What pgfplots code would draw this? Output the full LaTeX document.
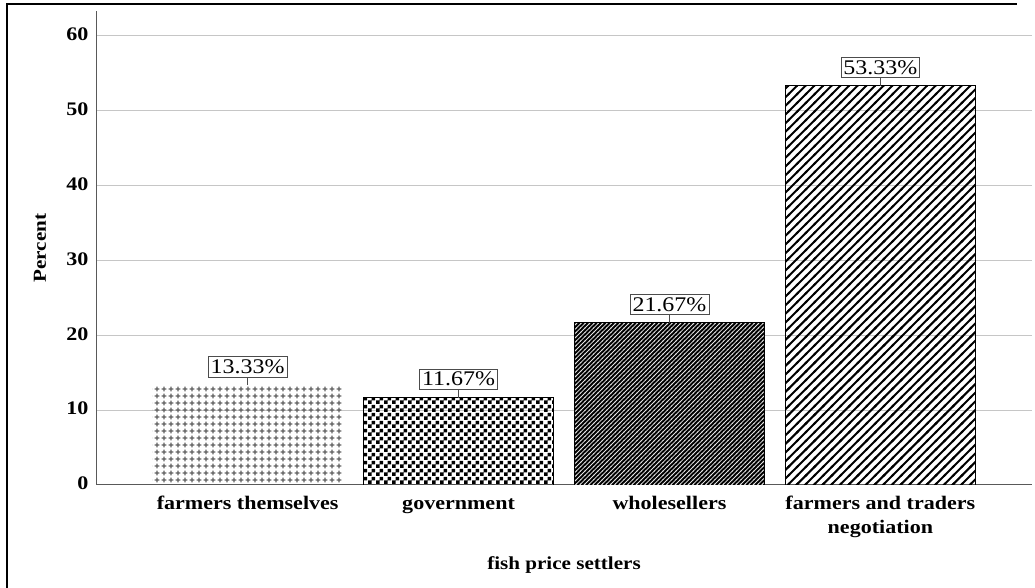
\documentclass[border=0pt]{standalone}
\usepackage{pgfplots}
\pgfplotsset{compat=1.18}
\usepackage{fontspec}
\setmainfont{Liberation Serif}[FakeStretch=1.15]
\usetikzlibrary{patterns}

% plus signs (bar 1)
\pgfdeclarepatternformonly{plusgrid}{\pgfqpoint{0pt}{0pt}}{\pgfqpoint{4.2pt}{4.2pt}}{\pgfqpoint{4.2pt}{4.2pt}}{%
  \pgfsetlinewidth{0.85pt}%
  \pgfpathmoveto{\pgfqpoint{0.5pt}{2.1pt}}\pgfpathlineto{\pgfqpoint{3.7pt}{2.1pt}}%
  \pgfpathmoveto{\pgfqpoint{2.1pt}{0.5pt}}\pgfpathlineto{\pgfqpoint{2.1pt}{3.7pt}}%
  \pgfusepath{stroke}}
% checkerboard (bar 2)
\pgfdeclarepatternformonly{checker}{\pgfqpoint{0pt}{0pt}}{\pgfqpoint{4.8pt}{4.8pt}}{\pgfqpoint{4.8pt}{4.8pt}}{%
  \pgfpathrectangle{\pgfqpoint{0pt}{0pt}}{\pgfqpoint{2.4pt}{2.4pt}}%
  \pgfpathrectangle{\pgfqpoint{2.4pt}{2.4pt}}{\pgfqpoint{2.4pt}{2.4pt}}%
  \pgfusepath{fill}}
% fine diagonal (bar 3)
\pgfdeclarepatternformonly{finediag}{\pgfqpoint{-1pt}{-1pt}}{\pgfqpoint{3.6pt}{3.6pt}}{\pgfqpoint{2.6pt}{2.6pt}}{%
  \pgfsetlinewidth{0.45pt}%
  \pgfpathmoveto{\pgfqpoint{-0.3pt}{-0.3pt}}\pgfpathlineto{\pgfqpoint{2.9pt}{2.9pt}}%
  \pgfusepath{stroke}}
% wide diagonal (bar 4)
\pgfdeclarepatternformonly{widediag}{\pgfqpoint{-1pt}{-1pt}}{\pgfqpoint{6.2pt}{6.2pt}}{\pgfqpoint{5.2pt}{5.2pt}}{%
  \pgfsetlinewidth{1.2pt}%
  \pgfpathmoveto{\pgfqpoint{-0.6pt}{-0.6pt}}\pgfpathlineto{\pgfqpoint{5.8pt}{5.8pt}}%
  \pgfusepath{stroke}}

\begin{document}
\begin{tikzpicture}
\useasboundingbox (-57.6pt,-61.8pt) rectangle (563.4pt,291pt);
\begin{axis}[
    at={(0,0)}, anchor=south west,
    scale only axis, width=561.6pt, height=284.4pt,
    xmin=-0.719, xmax=3.719, ymin=0, ymax=63.3,
    ybar, bar width=0.9, bar shift=0pt,
    xtick={0,1,2,3},
    xticklabels={{farmers themselves},{government},{wholesellers},{farmers and traders\\negotiation}},
    typeset ticklabels with strut,
    ytick={0,10,...,60},
    ymajorgrids, grid style={gray!45, line width=0.6pt},
    axis x line*=bottom, axis y line*=left,
    axis line style={gray!70!black, line width=0.6pt, -},
    major tick length=0pt,
    /pgf/number format/assume math mode=true,
    tick label style={font=\fontsize{11.5}{14.5}\selectfont\bfseries},
    xticklabel style={align=center, yshift=-1pt},
    yticklabel style={xshift=-1pt},
    xlabel={fish price settlers},
    ylabel={Percent},
    label style={font=\fontsize{11}{12}\selectfont\bfseries},
    xlabel style={at={(axis description cs:0.5,0)}, anchor=center, yshift=-48pt},
    ylabel style={at={(axis description cs:-0.0598,0.5)}, anchor=center},
    nodes near coords={\pgfmathprintnumber[fixed,fixed zerofill,precision=2]{\pgfplotspointmeta}\%},
    nodes near coords style={draw=gray!60!black, fill=white, inner xsep=1.5pt, inner ysep=1.8pt,
        font=\fontsize{12.5}{13}\selectfont, anchor=south, yshift=4.8pt,
        append after command={(\tikzlastnode.south) edge[gray!60!black] ([yshift=-4.8pt]\tikzlastnode.south)}},
  ]
  % farmers themselves
  \addplot[draw=none, pattern=plusgrid, pattern color=gray!75!black] coordinates {(0,13.33)};
  % government
  \addplot[draw=black, pattern=checker, pattern color=black] coordinates {(1,11.67)};
  % wholesellers
  \addplot[draw=black, fill=black, postaction={pattern=finediag, pattern color=white!80!gray}] coordinates {(2,21.67)};
  % farmers and traders negotiation
  \addplot[draw=black, pattern=widediag, pattern color=black] coordinates {(3,53.33)};
\end{axis}
\draw[line width=1.2pt] (-53.4pt,-61.8pt) -- (-53.4pt,288.6pt) -- (552.6pt,288.6pt);
\end{tikzpicture}
\end{document}
